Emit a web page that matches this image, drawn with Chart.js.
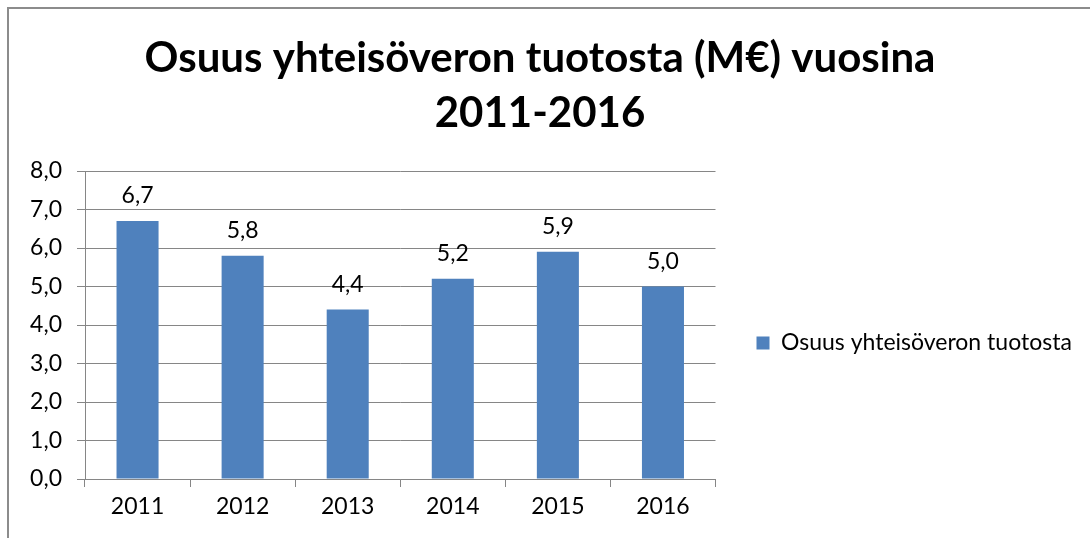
<!DOCTYPE html>
<html>
<head>
<meta charset="utf-8">
<script src="https://cdn.jsdelivr.net/npm/chart.js@4.4.0/dist/chart.umd.min.js"></script>
<style>
  html, body { margin: 0; padding: 0; background: #fff; }
  #wrap { position: relative; width: 1090px; height: 538px; overflow: hidden; }
  #frame { position: absolute; left: 7px; top: 7px; width: 1200px; height: 700px; border-left: 2px solid #8c8c8c; border-top: 2px solid #8c8c8c; }
  canvas { position: absolute; left: 0; top: 0; }
</style>
</head>
<body>
<div id="wrap">
  <div id="frame"></div>
  <canvas id="c" width="1090" height="538"></canvas>
</div>
<script>
const titleLines = ['Osuus yhteisöveron tuotosta (M€) vuosina', '2011-2016'];
const seriesName = 'Osuus yhteisöveron tuotosta';
const categories = ['2011', '2012', '2013', '2014', '2015', '2016'];
const values = [6.7, 5.8, 4.4, 5.2, 5.9, 5.0];
const yMin = 0, yMax = 8, yStep = 1;

const FONT = 'Lato, "Liberation Sans", sans-serif';
const fmt = v => Number(v).toFixed(1).replace('.', ',');

const dataLabels = {
  id: 'dataLabels',
  afterDatasetsDraw(chart) {
    const ctx = chart.ctx;
    const meta = chart.getDatasetMeta(0);
    ctx.save();
    ctx.font = '23px ' + FONT;
    ctx.fillStyle = '#000';
    ctx.textAlign = 'center';
    ctx.textBaseline = 'alphabetic';
    meta.data.forEach((bar, i) => {
      ctx.fillText(fmt(chart.data.datasets[0].data[i]), bar.x, bar.y - 18);
    });
    ctx.restore();
  }
};

// Give the right-hand legend the whole strip to the right of the plot area,
// and centre the title over the whole chart
const legendPlace = {
  id: 'legendPlace',
  afterLayout(chart) {
    const lg = chart.legend;
    const area = chart.chartArea;
    const h = area.bottom - area.top;
    lg.update(chart.width - area.right, h, lg._margins);
    lg.left = area.right;
    lg.right = chart.width;
    lg.width = lg.right - lg.left;
    lg.top = area.top + 18;
    lg.bottom = lg.top + h;
    lg.height = h;
    if (lg.adjustHitBoxes) lg.adjustHitBoxes();
    const tb = chart.titleBlock;
    if (tb) { tb.left = 0; tb.right = chart.width - 10; tb.width = tb.right - tb.left; }
  }
};

new Chart(document.getElementById('c'), {
  type: 'bar',
  data: {
    labels: categories,
    datasets: [{
      label: seriesName,
      data: values,
      backgroundColor: '#4F81BD',
      borderWidth: 0,
      barPercentage: 0.4,
      categoryPercentage: 1.0
    }]
  },
  options: {
    responsive: false,
    animation: false,
    devicePixelRatio: 1,
    layout: { padding: { left: 0, right: 136, top: 0, bottom: 0 } },
    plugins: {
      title: {
        display: true,
        text: titleLines,
        color: '#000',
        font: { family: FONT, size: 42, weight: 'bold', lineHeight: 55 / 42 },
        padding: { top: 31, bottom: 30 }
      },
      legend: {
        display: true,
        position: 'right',
        labels: {
          boxWidth: 13,
          boxHeight: 13,
          padding: 41,
          color: '#000',
          font: { family: FONT, size: 23 }
        }
      },
      tooltip: { enabled: false }
    },
    scales: {
      x: {
        grid: { display: true, drawOnChartArea: false, drawTicks: true, tickLength: 8, color: '#868686', offset: true },
        border: { display: true, color: '#868686' },
        ticks: { color: '#000', font: { family: FONT, size: 23 }, padding: 6 },
        afterFit(scale) { scale.height = 59; }
      },
      y: {
        min: yMin, max: yMax,
        grid: { color: '#868686', tickLength: 8, drawTicks: true },
        border: { display: true, color: '#868686' },
        ticks: { stepSize: yStep, color: '#000', font: { family: FONT, size: 23 }, padding: 15, callback: v => fmt(v) },
        afterFit(scale) { scale.width = 85; }
      }
    }
  },
  plugins: [dataLabels, legendPlace]
});
</script>
</body>
</html>
